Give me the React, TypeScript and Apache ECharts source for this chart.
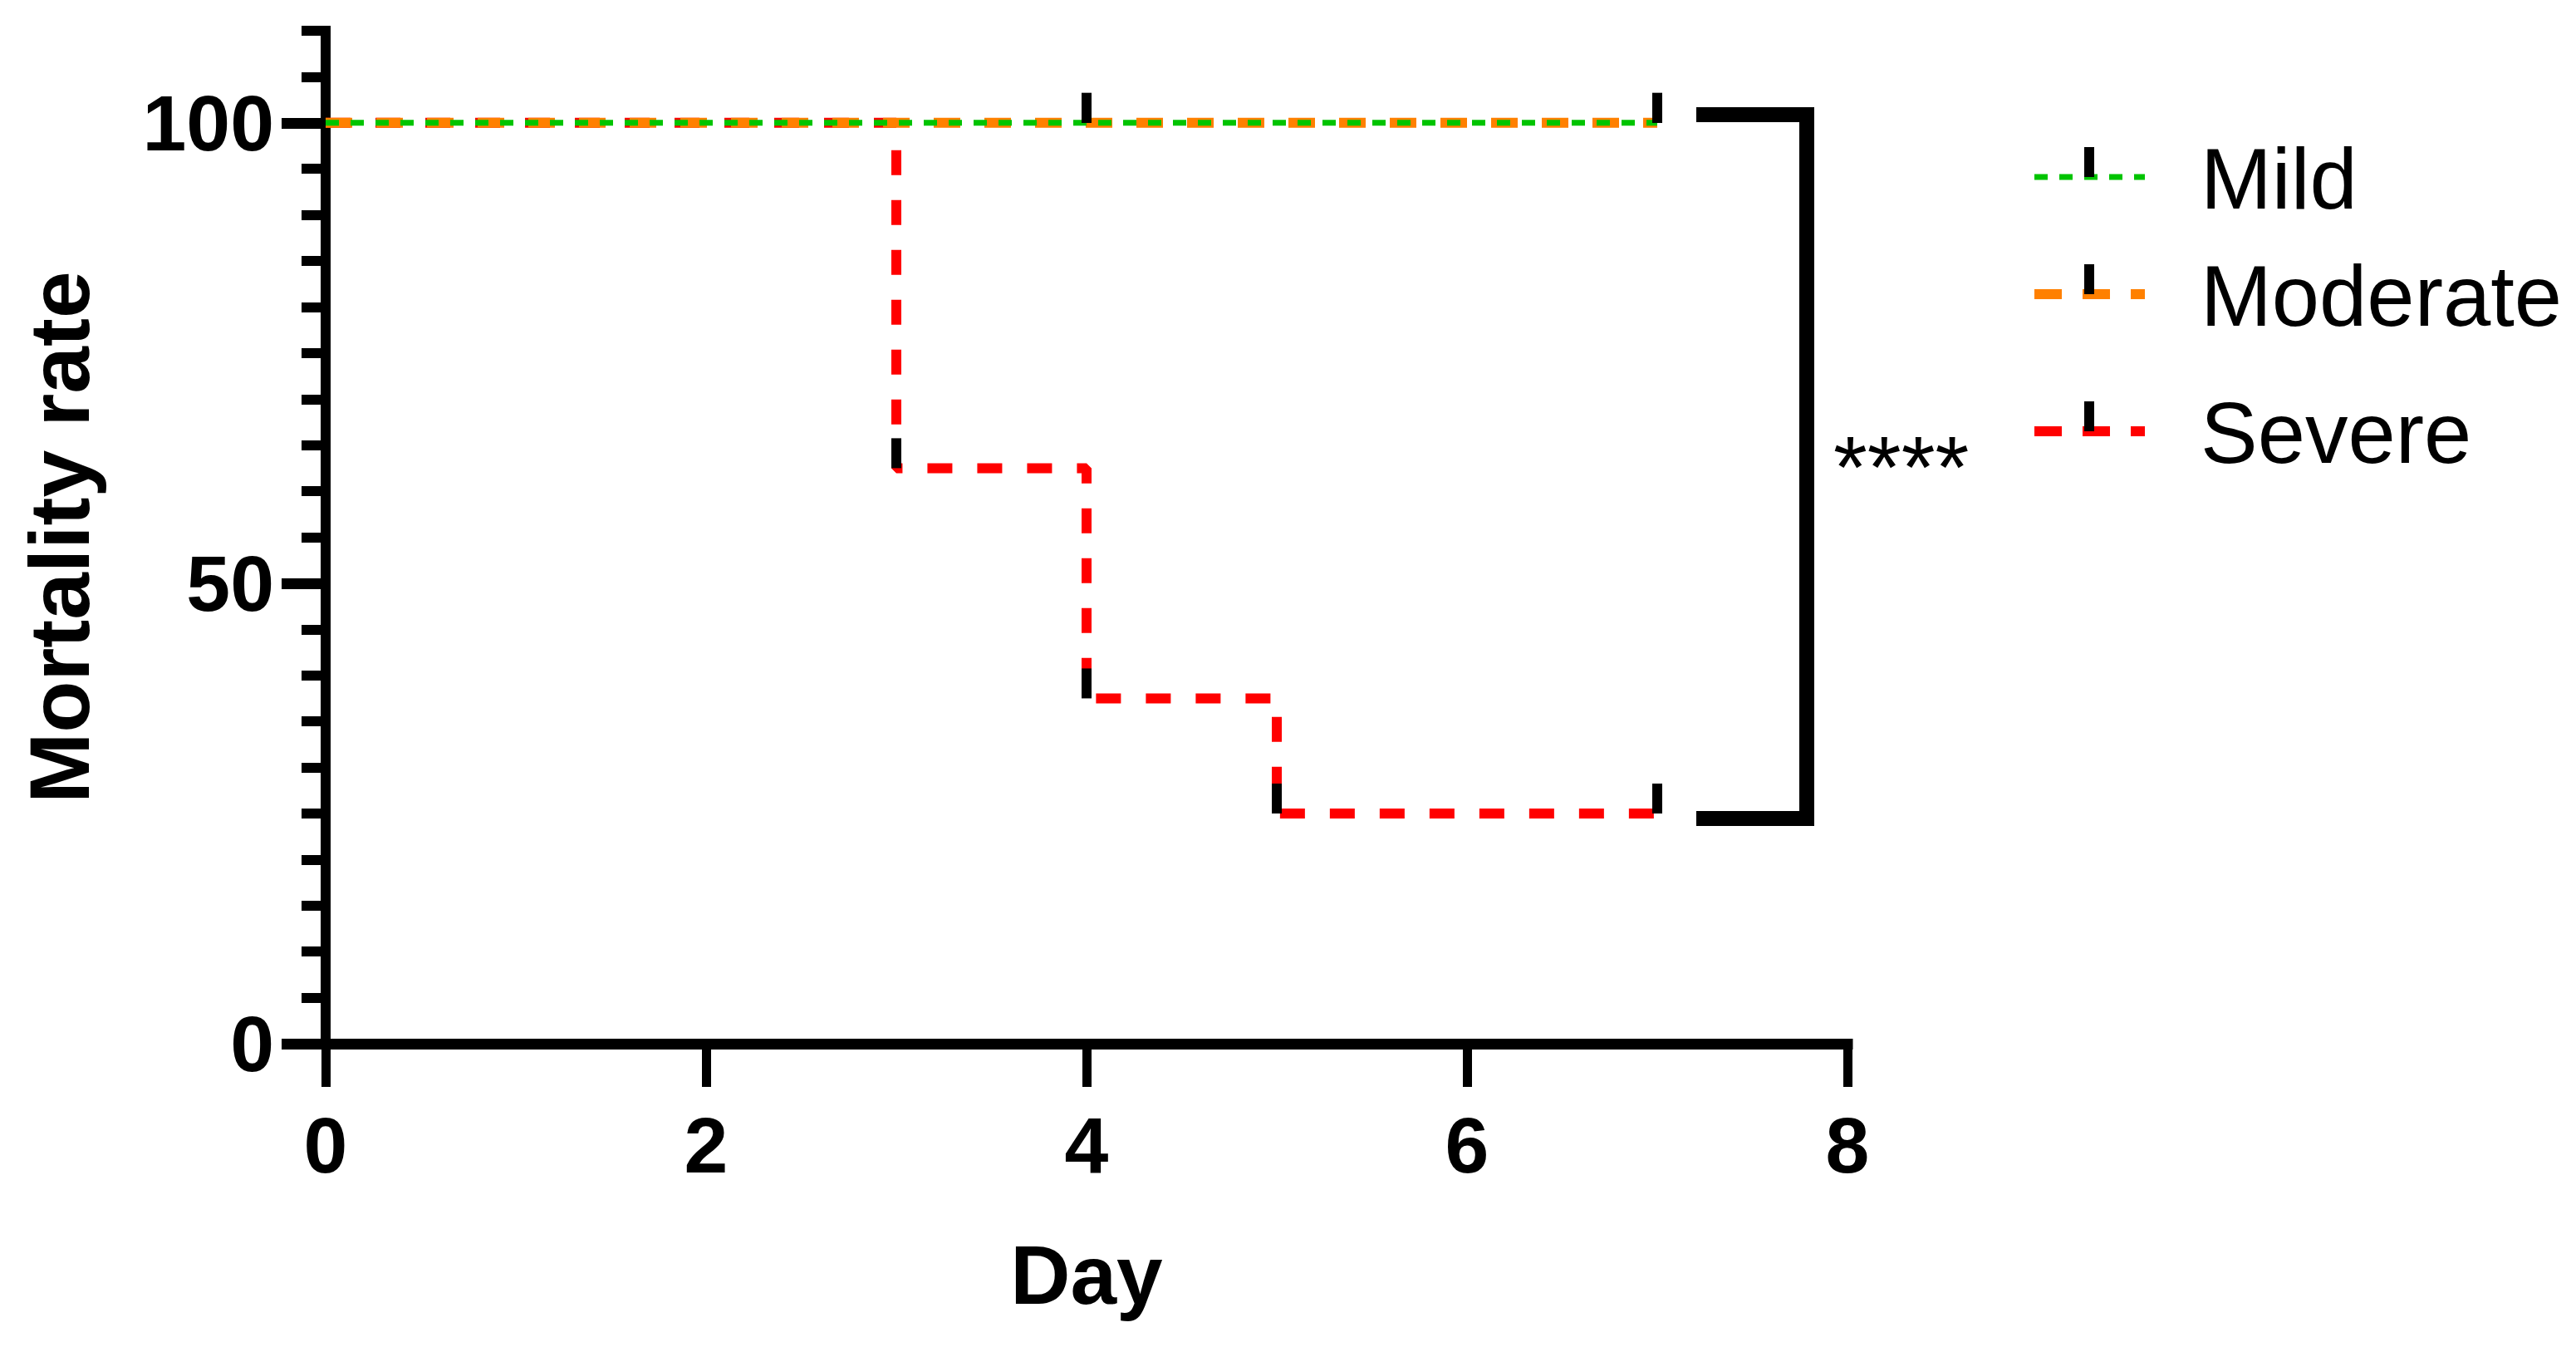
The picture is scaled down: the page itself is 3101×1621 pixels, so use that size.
import React, { useEffect, useRef } from "react";
import * as echarts from "echarts";

const FONT = "'Liberation Sans', Arial, sans-serif";

// Survival (mortality) step data: [day, percent]
const mildPoints = [[0, 100], [7, 100]];
const moderatePoints = [[0, 100], [7, 100]];
const severePoints = [[0, 100], [3, 62.5], [4, 37.5], [5, 25], [7, 25]];

// Censored marks: [day, percent]
const mildCensor = [[4, 100], [7, 100]];
const moderateCensor = [[4, 100], [7, 100]];
const severeCensor = [[3, 62.5], [4, 37.5], [5, 25], [7, 25]];

const seriesNames = ["Mild", "Moderate", "Severe"];
const seriesColors = ["#00C400", "#FF8000", "#FF0000"];

const xTicks = [0, 2, 4, 6, 8];
const yMajorTicks = [0, 50, 100];
const significance = "****";

export default function App() {
  const ref = useRef<HTMLDivElement>(null);

  useEffect(() => {
    document.body.style.margin = "0";
    document.body.style.overflow = "hidden";
    if (!ref.current) return;
    const chart = echarts.init(ref.current, null, { renderer: "svg" });

    const legendRows = [213, 354, 519];
    const legendDashes = [[16, 14], [33, 25], [33, 25]];
    const legendWidths = [7, 12, 12];

    const graphics: any[] = [];
    seriesNames.forEach((name, i) => {
      const ly = legendRows[i];
      graphics.push({
        type: "line",
        shape: { x1: 2449, y1: ly, x2: 2582, y2: ly },
        style: { stroke: seriesColors[i], lineWidth: legendWidths[i], lineDash: legendDashes[i] },
        z: 10,
      });
      graphics.push({
        type: "rect",
        shape: { x: 2509, y: ly - 36, width: 12, height: 36 },
        style: { fill: "#000" },
        z: 11,
      });
      graphics.push({
        type: "text",
        x: 2649,
        y: ly + 2,
        style: {
          text: name,
          fontSize: 103,
          fontFamily: FONT,
          fill: "#000",
          verticalAlign: "middle",
          align: "left",
        },
        z: 10,
      });
    });
    graphics.push({
      type: "polyline",
      shape: { points: [[2042, 138], [2175, 138], [2175, 985], [2042, 985]] },
      style: { stroke: "#000", lineWidth: 18, fill: "none", lineJoin: "miter" },
      z: 10,
    });
    graphics.push({
      type: "text",
      x: 2207,
      y: 562,
      style: {
        text: significance,
        fontSize: 105,
        fontWeight: "normal",
        fontFamily: FONT,
        fill: "#000",
        verticalAlign: "middle",
        align: "left",
      },
      z: 10,
    });

    const censorSeries = (data: number[][], name: string) => ({
      type: "scatter",
      name: name + " censored",
      data,
      symbol: "rect",
      symbolSize: [12, 36],
      symbolOffset: [0, -18],
      itemStyle: { color: "#000", opacity: 1 },
      z: 20,
      silent: true,
    });

    chart.setOption({
      animation: false,
      backgroundColor: "#fff",
      grid: {
        left: 392,
        top: 37,
        right: 3101 - 2224,
        bottom: 1621 - 1256,
        containLabel: false,
        outerBoundsMode: "none",
      },
      xAxis: {
        type: "value",
        min: 0,
        max: 8,
        interval: 2,
        name: "Day",
        nameLocation: "middle",
        nameGap: 228,
        nameTextStyle: { fontSize: 100, fontWeight: "bold", fontFamily: FONT, color: "#000" },
        axisLine: { show: true, onZero: false, lineStyle: { color: "#000", width: 13, cap: "square" } },
        axisTick: { show: true, inside: false, length: 52, lineStyle: { color: "#000", width: 11 }, customValues: xTicks },
        axisLabel: {
          show: true,
          margin: 74,
          fontSize: 95,
          fontWeight: "bold",
          fontFamily: FONT,
          color: "#000",
          customValues: xTicks,
        },
        splitLine: { show: false },
      },
      yAxis: [
        {
          type: "value",
          position: "left",
          min: 0,
          max: 110,
          interval: 5,
          name: "Mortality rate",
          nameLocation: "middle",
          nameGap: 269,
          nameTextStyle: { fontSize: 102, fontWeight: "bold", fontFamily: FONT, color: "#000" },
          axisLine: { show: true, onZero: false, lineStyle: { color: "#000", width: 12, cap: "square" } },
          axisTick: { show: true, inside: false, length: 29, lineStyle: { color: "#000", width: 12 } },
          axisLabel: { show: false },
          splitLine: { show: false },
        },
        {
          type: "value",
          position: "left",
          min: 0,
          max: 110,
          interval: 5,
          axisLine: { show: false },
          axisTick: { show: true, inside: false, length: 53, lineStyle: { color: "#000", width: 13 }, customValues: yMajorTicks },
          axisLabel: {
            show: true,
            margin: 62,
            fontSize: 95,
            fontWeight: "bold",
            fontFamily: FONT,
            color: "#000",
            customValues: yMajorTicks,
          },
          splitLine: { show: false },
        },
      ],
      series: [
        {
          type: "line",
          name: "Severe",
          data: severePoints,
          step: "end",
          showSymbol: false,
          lineStyle: { color: seriesColors[2], width: 12, type: [30, 30], cap: "butt" },
          z: 3,
          silent: true,
        },
        {
          type: "line",
          name: "Moderate",
          data: moderatePoints,
          step: "end",
          showSymbol: false,
          lineStyle: { color: seriesColors[1], width: 12, type: [32, 29], cap: "butt" },
          z: 4,
          silent: true,
        },
        {
          type: "line",
          name: "Mild",
          data: mildPoints,
          step: "end",
          showSymbol: false,
          lineStyle: { color: seriesColors[0], width: 7, type: [16, 14], cap: "butt" },
          z: 5,
          silent: true,
        },
        censorSeries(severeCensor, "Severe"),
        censorSeries(moderateCensor, "Moderate"),
        censorSeries(mildCensor, "Mild"),
      ],
      graphic: graphics,
    });

    return () => chart.dispose();
  }, []);

  return <div ref={ref} style={{ width: 3101, height: 1621 }} />;
}
